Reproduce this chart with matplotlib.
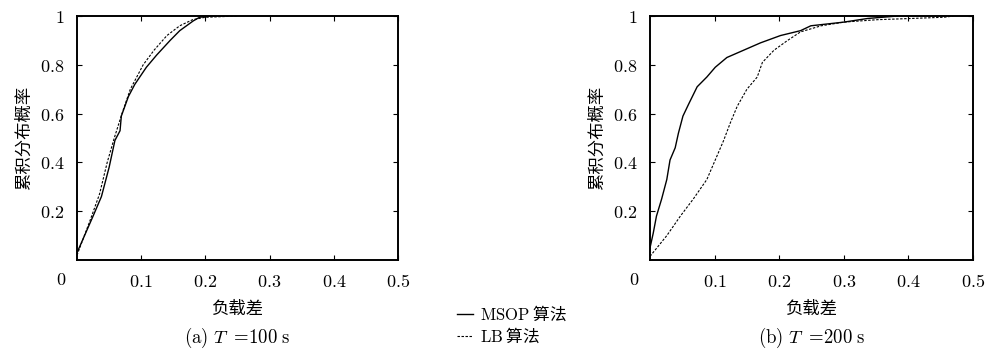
#%% Imports
import matplotlib
matplotlib.use('Agg')
import matplotlib.pyplot as plt
from matplotlib.lines import Line2D
from matplotlib.transforms import blended_transform_factory

plt.rcParams['font.family'] = ['Noto Sans CJK SC', 'DejaVu Sans']
plt.rcParams['mathtext.fontset'] = 'cm'

#%% Data
# (a) T = 100 s
a_msop_x = [0.0, 0.025, 0.038, 0.05, 0.059, 0.067, 0.069, 0.08, 0.09, 0.108,
            0.124, 0.145, 0.16, 0.181, 0.191, 0.21]
a_msop_y = [0.03, 0.18, 0.26, 0.38, 0.49, 0.53, 0.59, 0.67, 0.72, 0.79,
            0.84, 0.90, 0.94, 0.98, 0.995, 1.0]
a_lb_x = [0.0, 0.02, 0.035, 0.047, 0.058, 0.07, 0.083, 0.103, 0.12, 0.14,
          0.16, 0.18, 0.2, 0.25]
a_lb_y = [0.02, 0.16, 0.27, 0.40, 0.50, 0.60, 0.70, 0.80, 0.86, 0.92,
          0.96, 0.985, 0.995, 1.0]

# (b) T = 200 s
b_msop_x = [0.0, 0.005, 0.01, 0.018, 0.026, 0.031, 0.039, 0.044, 0.051, 0.06,
            0.073, 0.088, 0.101, 0.119, 0.145, 0.171, 0.202, 0.233, 0.249,
            0.30, 0.337, 0.383]
b_msop_y = [0.05, 0.11, 0.18, 0.25, 0.33, 0.41, 0.46, 0.52, 0.59, 0.64,
            0.71, 0.75, 0.79, 0.83, 0.86, 0.89, 0.92, 0.94, 0.96,
            0.975, 0.99, 1.0]
b_lb_x = [0.0, 0.026, 0.047, 0.067, 0.088, 0.101, 0.114, 0.124, 0.135, 0.15,
          0.166, 0.174, 0.192, 0.213, 0.233, 0.265, 0.30, 0.352, 0.404,
          0.455, 0.47]
b_lb_y = [0.015, 0.10, 0.18, 0.25, 0.33, 0.41, 0.49, 0.56, 0.63, 0.70,
          0.75, 0.81, 0.86, 0.90, 0.935, 0.96, 0.975, 0.985, 0.99,
          0.995, 1.0]

x_ticks = [0.1, 0.2, 0.3, 0.4, 0.5]
y_ticks = [0.2, 0.4, 0.6, 0.8, 1.0]
y_tick_labels = ['0.2', '0.4', '0.6', '0.8', '1']

panels = [
    (a_msop_x, a_msop_y, a_lb_x, a_lb_y, r'$\mathrm{(a)}\ T\ =\!100\ \mathrm{s}$'),
    (b_msop_x, b_msop_y, b_lb_x, b_lb_y, r'$\mathrm{(b)}\ T\ =\!200\ \mathrm{s}$'),
]

dash = (0, (2.2, 1.4))

#%% Plot
fig = plt.figure(figsize=(9.85, 3.5), dpi=100)
rects = [[0.0782, 0.2571, 0.3259, 0.6971], [0.6599, 0.2571, 0.3279, 0.6971]]

for rect, (mx, my, lx, ly, caption) in zip(rects, panels):
    ax = fig.add_axes(rect)
    ax.plot(mx, my, color='black', lw=1.0)
    ax.plot(lx, ly, color='black', lw=0.8, linestyle=dash)
    ax.set_xlim(0, 0.5)
    ax.set_ylim(0, 1)
    ax.set_xticks(x_ticks, labels=[f'${t:g}$' for t in x_ticks])
    ax.set_yticks(y_ticks, labels=[f'${t}$' for t in y_tick_labels])
    ax.tick_params(direction='in', top=True, right=True, length=3.5,
                   width=0.8, labelsize=13, pad=9)
    for spine in ax.spines.values():
        spine.set_linewidth(1.4)
    trans = blended_transform_factory(ax.transAxes, ax.transAxes)
    ax.text(-0.05, -0.082, '$0$', transform=trans, fontsize=13,
            ha='center', va='center')
    ax.set_xlabel('负载差', fontsize=12.5, labelpad=6.5)
    ax.set_ylabel('累积分布概率', fontsize=12.5, labelpad=5)
    ax.text(0.5, -0.32, caption, transform=ax.transAxes, fontsize=13.5,
            ha='center', va='center')

handles = [Line2D([], [], color='black', lw=1.0),
           Line2D([], [], color='black', lw=0.8, linestyle=dash)]
labels = [r'$\mathrm{MSOP}$ 算法', r'$\mathrm{LB}$ 算法']
fig.legend(handles, labels, loc='center left', bbox_to_anchor=(0.455, 0.07),
           frameon=False, fontsize=12, handlelength=1.0, handletextpad=0.4,
           labelspacing=0.15, borderpad=0)

fig.savefig('out.png', dpi=100)
